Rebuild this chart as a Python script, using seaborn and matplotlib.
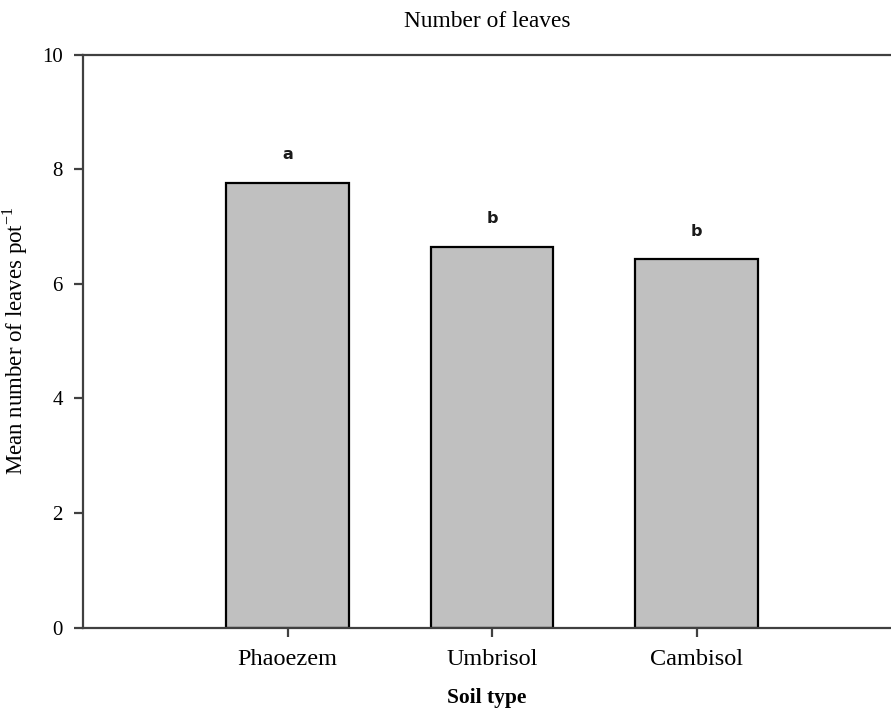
import matplotlib
matplotlib.use("Agg")
import matplotlib.pyplot as plt
import seaborn as sns
import pandas as pd

# Mean number of leaves per pot by soil type
soils = ["Phaoezem", "Umbrisol", "Cambisol"]
mean_leaves = [7.76, 6.64, 6.43]
letters = ["a", "b", "b"]
y_ticks = [0, 2, 4, 6, 8, 10]

df = pd.DataFrame({"soil": soils, "leaves": mean_leaves})

sns.set_style("white")
plt.rcParams["font.family"] = ["Liberation Serif", "DejaVu Serif"]
plt.rcParams["mathtext.fontset"] = "custom"
plt.rcParams["mathtext.rm"] = "Liberation Serif"
plt.rcParams["text.color"] = "#000000"
plt.rcParams["axes.labelcolor"] = "#000000"
plt.rcParams["xtick.color"] = "#404040"
plt.rcParams["ytick.color"] = "#404040"

fig = plt.figure(figsize=(8.91, 7.21), dpi=100)
ax = fig.add_axes([0.0932, 0.1294, 0.9068, 0.795])

sns.barplot(data=df, x="soil", y="leaves", order=soils, color="#c0c0c0",
            saturation=1, width=0.6, edgecolor="#000000", linewidth=1.6, ax=ax)

for i, (v, lab) in enumerate(zip(mean_leaves, letters)):
    ax.text(i, v + 0.36, lab, ha="center", va="bottom", fontsize=11.5,
            fontweight="bold", family=["DejaVu Sans"], color="#1a1a1a")

ax.set_xlim(-1.0, 2.95)
ax.set_ylim(0, 10)
ax.set_yticks(y_ticks)
ax.set_yticklabels([str(t) for t in y_ticks])

for side in ["left", "bottom", "top"]:
    ax.spines[side].set_visible(True)
    ax.spines[side].set_color("#404040")
    ax.spines[side].set_linewidth(1.6)
ax.spines["right"].set_visible(False)

ax.tick_params(axis="both", direction="out", length=6.5, width=1.6, color="#404040",
               labelcolor="#000000")
ax.tick_params(axis="y", labelsize=15, pad=8, left=True)
ax.tick_params(axis="x", labelsize=17.5, pad=9, bottom=True)

ax.set_title("Number of leaves", fontsize=16.8, pad=20, color="#000000")
ax.set_xlabel("Soil type", fontsize=15.5, fontweight="bold", labelpad=13)
ax.set_ylabel(r"Mean number of leaves pot$^{\mathregular{-1}}$", fontsize=16.5, labelpad=9)

fig.savefig("out.png", dpi=100)
